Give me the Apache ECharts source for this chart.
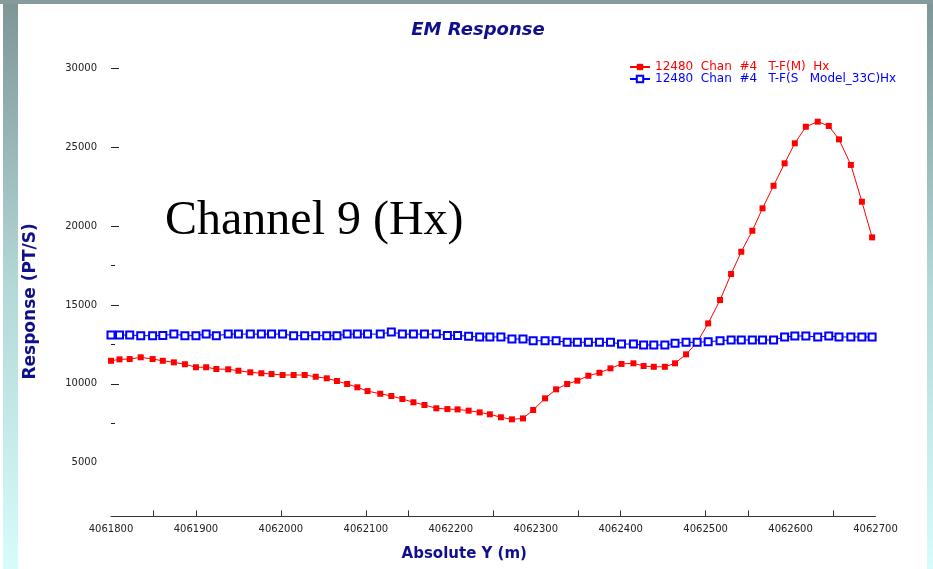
<!DOCTYPE html>
<html>
<head>
<meta charset="utf-8">
<script src="https://cdn.jsdelivr.net/npm/echarts@6/dist/echarts.min.js"></script>
<style>
html,body{margin:0;padding:0;background:#fff;}
#chart{width:933px;height:569px;}
</style>
</head>
<body>
<div id="chart"></div>
<script>
// Absolute Y positions (m) of the stations
const stationY = [4061800,4061810,4061822,4061835,4061849,4061861,4061874,4061887,4061900,4061912,
  4061924,4061938,4061950,4061964,4061977,4061989,4062002,4062015,4062028,4062041,
  4062054,4062066,4062078,4062090,4062102,4062117,4062130,4062143,4062156,4062169,
  4062183,4062196,4062208,4062221,4062234,4062246,4062259,4062272,4062285,4062297,
  4062311,4062324,4062337,4062349,4062362,4062375,4062388,4062401,4062415,4062427,
  4062439,4062452,4062464,4062477,4062490,4062503,4062517,4062530,4062542,4062555,
  4062567,4062580,4062593,4062605,4062618,4062632,4062645,4062657,4062671,4062684,
  4062696];
// Measured response (red)
const measured = [11460,11550,11570,11680,11570,11460,11360,11240,11050,11050,
  10940,10920,10830,10730,10670,10620,10560,10560,10560,10450,
  10350,10180,9990,9780,9540,9370,9230,9040,8830,8660,
  8450,8400,8380,8300,8190,8070,7880,7750,7810,8340,
  9080,9650,9990,10200,10510,10700,10980,11260,11300,11130,
  11080,11080,11300,11870,12630,13830,15310,16960,18370,19700,
  21120,22550,23970,25240,26290,26610,26340,25490,23870,21540,
  19280];
// Model response (blue)
const model = [13090,13090,13090,13050,13050,13060,13150,13050,13050,13150,
  13050,13150,13150,13150,13150,13150,13150,13050,13050,13050,
  13050,13050,13150,13150,13150,13150,13280,13150,13150,13150,
  13150,13070,13070,13010,12970,12970,12970,12840,12840,12730,
  12730,12730,12630,12630,12630,12630,12630,12520,12520,12460,
  12460,12460,12570,12630,12630,12670,12730,12780,12780,12780,
  12780,12780,12970,13030,13030,12970,13030,12970,12970,12970,
  12970];
const xLabelValues = [4061800,4061900,4062000,4062100,4062200,4062300,4062400,4062500,4062600,4062700];
const xTickValues = [4061850,4061900,4062000,4062100,4062150,4062250,4062350,4062400,4062500,4062550,4062650];
const yLabelValues = [5000,10000,15000,20000,25000,30000];
const yMajorTicks = [10000,15000,20000,25000,30000];
const yMinorTicks = [7500,12500,17500];
const measuredName = '12480  Chan  #4   T-F(M)  Hx';
const modelName = '12480  Chan  #4   T-F(S   Model_33C)Hx';

const navy = '#10108c';
const chart = echarts.init(document.getElementById('chart'));
const stripGrad = new echarts.graphic.LinearGradient(0,0,0,1,[
  {offset:0,color:'#7e9696'},{offset:0.5,color:'#b4d8d8'},{offset:1,color:'#d8fcfc'}]);
const stripGrad2 = new echarts.graphic.LinearGradient(0,0,0,1,[
  {offset:0,color:'#7e9696'},{offset:0.5,color:'#b4d8d8'},{offset:1,color:'#d8fcfc'}]);

chart.setOption({
  animation:false,
  backgroundColor:'#ffffff',
  title:{
    text:'EM Response', left:473, top:16, textAlign:'center',
    textStyle:{fontFamily:'DejaVu Sans',fontSize:18,fontWeight:'bold',fontStyle:'italic',color:navy}
  },
  legend:{
    orient:'vertical', left:624, top:56, itemWidth:20, itemHeight:8, itemGap:0,
    textStyle:{fontFamily:'DejaVu Sans',fontSize:12,lineHeight:12},
    data:[{name:measuredName,textStyle:{color:'#ff0000'}},{name:modelName,textStyle:{color:'#0000ff'}}]
  },
  grid:{left:111,right:57.5,top:52.4,bottom:52.6},
  xAxis:{
    type:'value', min:4061800, max:4062700,
    name:'Absolute Y (m)', nameLocation:'middle', nameGap:30,
    nameTextStyle:{fontFamily:'DejaVu Sans',fontSize:15,fontWeight:'bold',color:navy,padding:[0,58,0,0]},
    axisLine:{show:true,lineStyle:{color:'#333',width:1}},
    axisTick:{show:true,inside:true,length:6,customValues:xTickValues,lineStyle:{color:'#333'}},
    axisLabel:{customValues:xLabelValues,margin:8,fontFamily:'DejaVu Sans',fontSize:10,color:'#222',
      formatter:function(v){return String(v);}},
    splitLine:{show:false}
  },
  yAxis:[{
    type:'value', min:1600, max:31000,
    name:'Response (PT/S)', nameLocation:'middle', nameGap:72, nameRotate:90,
    nameTextStyle:{fontFamily:'DejaVu Sans',fontSize:17,fontWeight:'bold',color:navy,padding:[0,34,0,0]},
    axisLine:{show:false},
    axisTick:{show:true,inside:true,length:8,customValues:yMajorTicks,lineStyle:{color:'#222'}},
    axisLabel:{customValues:yLabelValues,margin:14,fontFamily:'DejaVu Sans',fontSize:10,color:'#222',
      formatter:function(v){return String(v);}},
    splitLine:{show:false}
  },{
    type:'value', min:1600, max:31000, position:'left',
    axisLine:{show:false},
    axisTick:{show:true,inside:true,length:4,customValues:yMinorTicks,lineStyle:{color:'#222'}},
    axisLabel:{show:false},
    splitLine:{show:false}
  }],
  graphic:[
    {type:'rect',shape:{x:0,y:0,width:933,height:4},style:{fill:'#869c9c'},z:-10},
    {type:'rect',shape:{x:3,y:4,width:15,height:565},style:{fill:stripGrad},z:-10},
    {type:'rect',shape:{x:927,y:4,width:6,height:565},style:{fill:stripGrad2},z:-10},
    {type:'text',left:165,top:197,z:100,
      style:{text:'Channel 9 (Hx)',fontFamily:'Liberation Serif',fontSize:48,fill:'#000'}}
  ],
  series:[{
    name:measuredName, type:'line',
    data:stationY.map(function(x,i){return [x,measured[i]];}),
    symbol:'rect', symbolSize:6,
    lineStyle:{color:'#ff0000',width:1},
    itemStyle:{color:'#ff0000'}
  },{
    name:modelName, type:'line',
    data:stationY.map(function(x,i){return [x,model[i]];}),
    symbol:'emptyRect', symbolSize:7,
    lineStyle:{color:'#0000ff',width:1},
    itemStyle:{color:'#0000ff',borderWidth:1.5}
  }]
});
</script>
</body>
</html>
